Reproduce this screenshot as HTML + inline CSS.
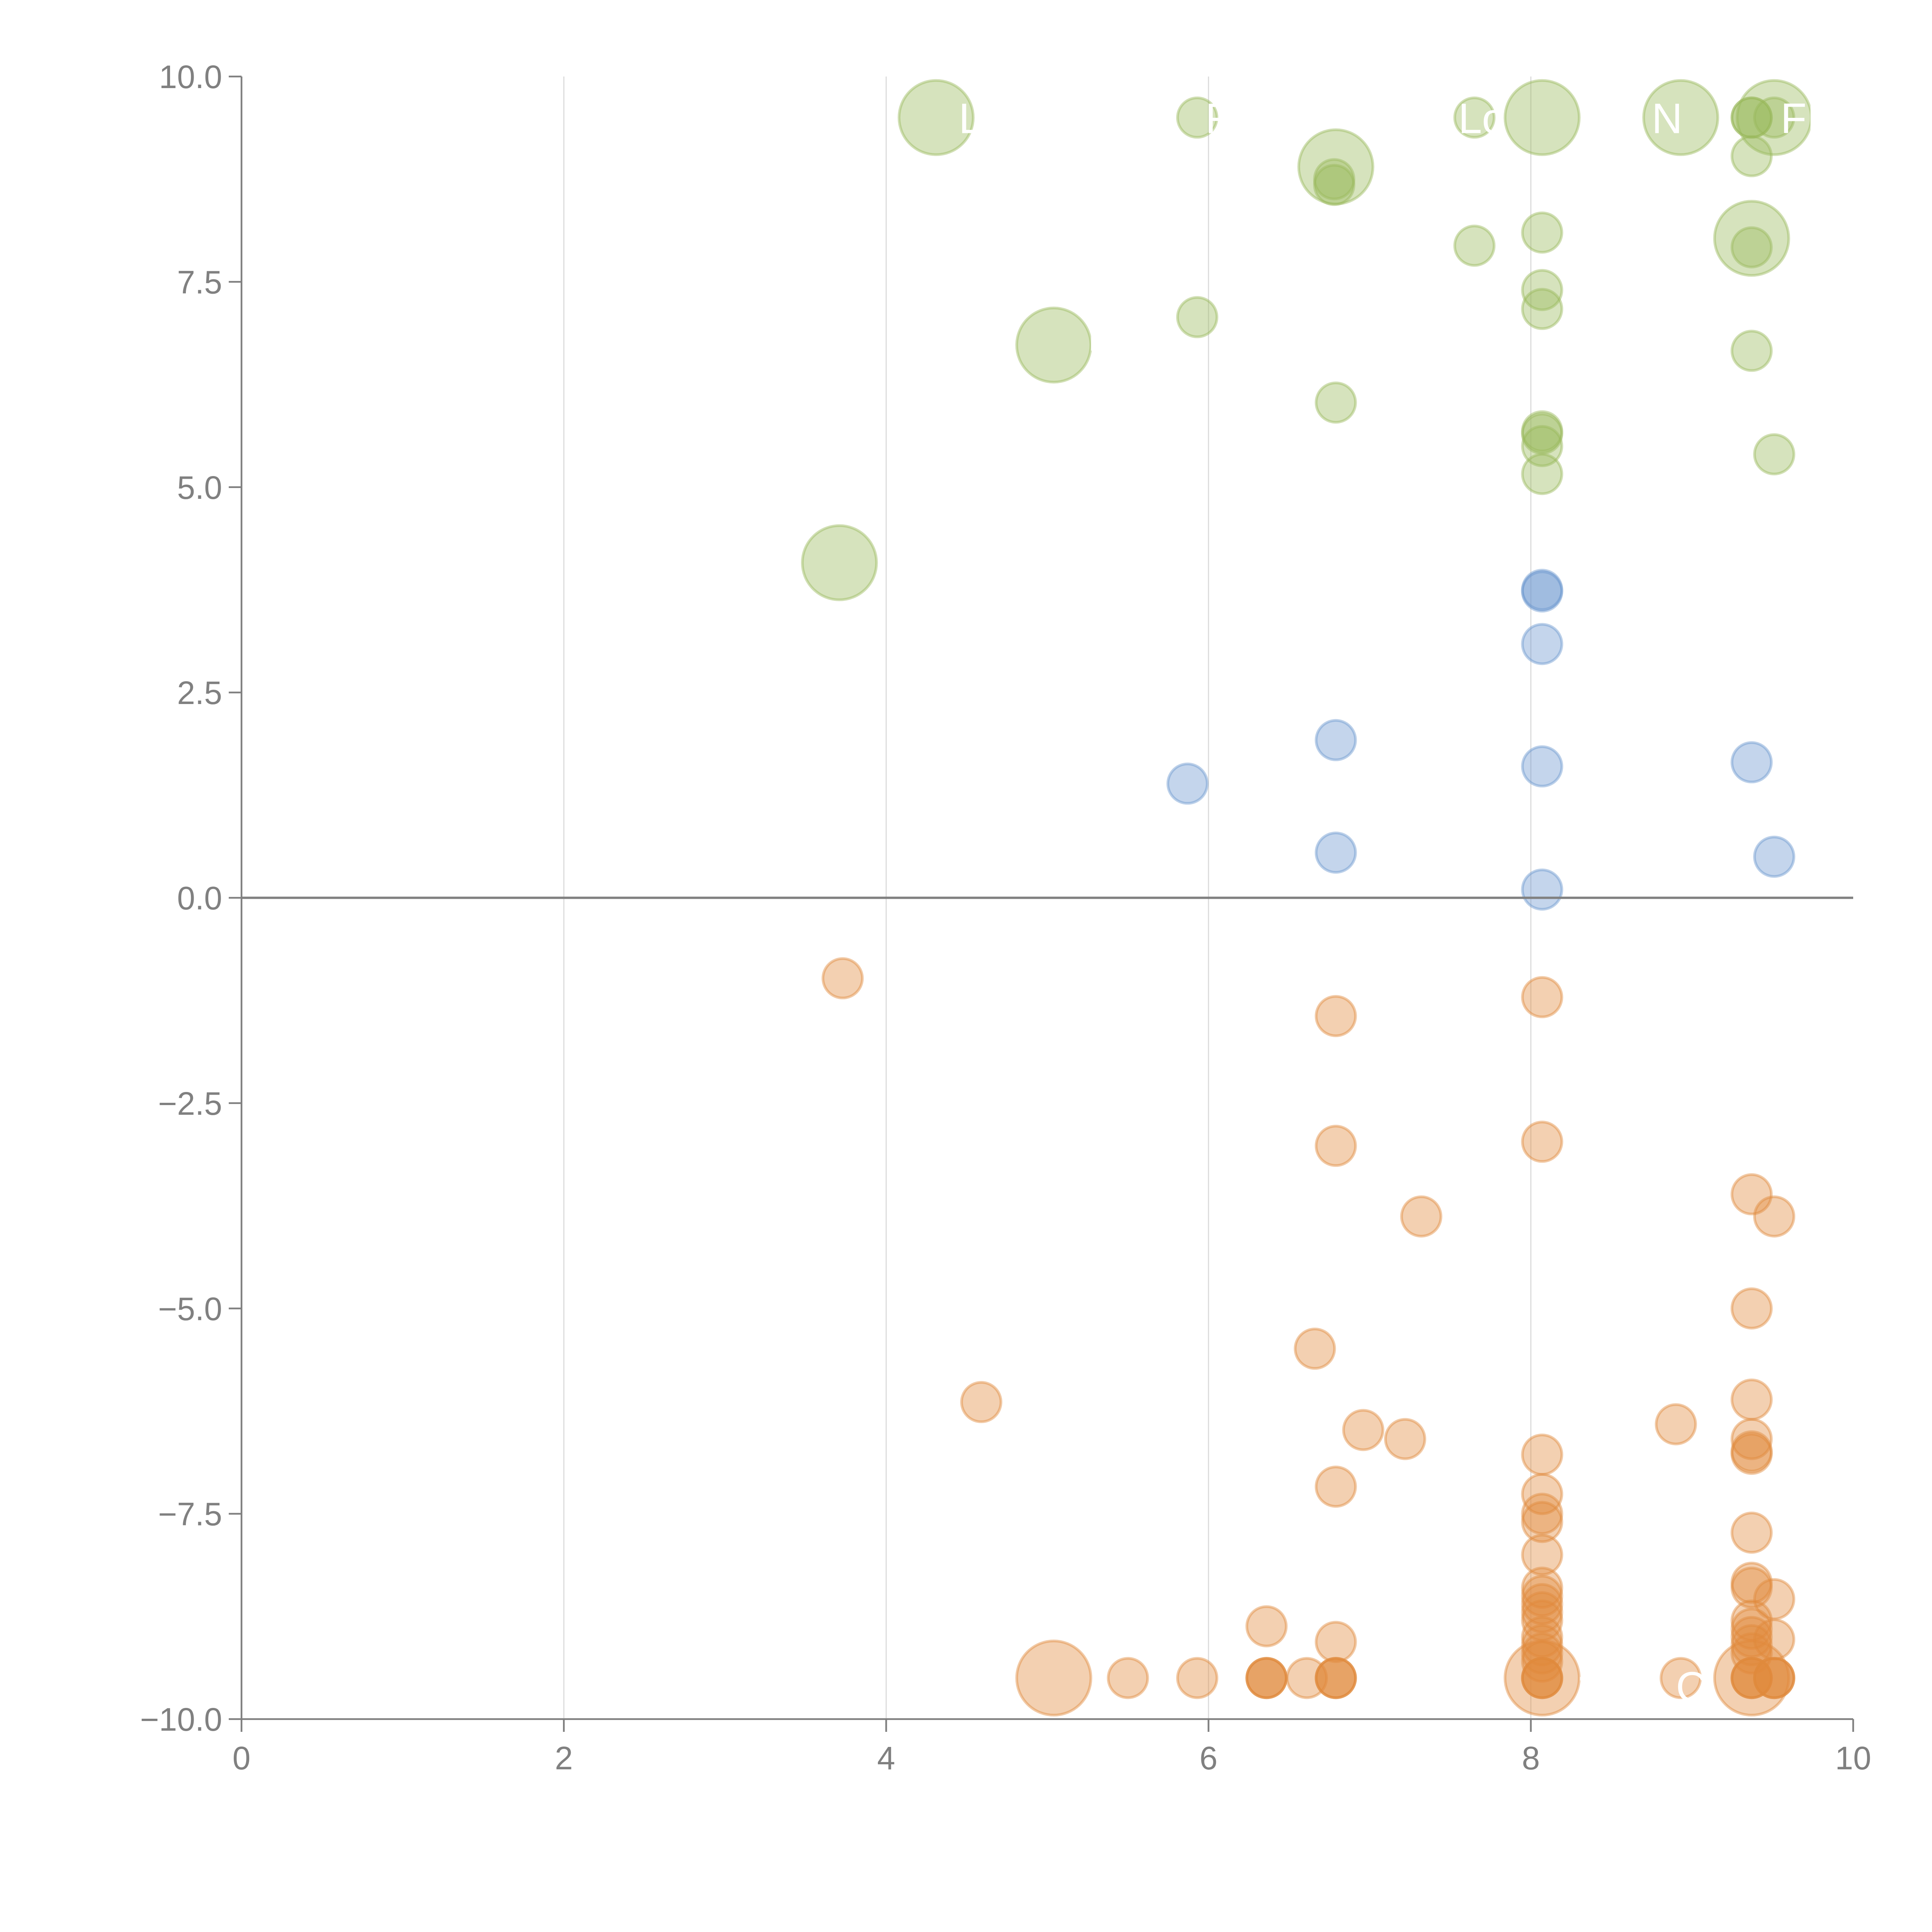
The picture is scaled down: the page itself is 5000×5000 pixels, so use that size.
<!DOCTYPE html>
<html><head><meta charset="utf-8"><title>Bubble scatter</title>
<style>html,body{margin:0;padding:0;background:#fff}svg{display:block}text{font-family:"Liberation Sans",Arial,sans-serif}</style>
</head><body>
<svg id="chart" width="5000" height="5000" viewBox="0 0 5000 5000" xmlns="http://www.w3.org/2000/svg">
<rect width="5000" height="5000" fill="#fff"/>
<g id="grid"></g>
<g id="marks"></g>
<g id="axes"></g>
<g id="labels"></g>
</svg>
<script>
const xTicks = [0, 2, 4, 6, 8, 10];
const yTicks = [-10, -7.5, -5, -2.5, 0, 2.5, 5, 7.5, 10];
const yTickLabels = ["\u221210.0", "\u22127.5", "\u22125.0", "\u22122.5", "0.0", "2.5", "5.0", "7.5", "10.0"];
const xTickLabels = ["0", "2", "4", "6", "8", "10"];

const greenX = [4.31, 5.93, 6.79, 6.78, 6.78, 7.65, 8.07, 8.93, 9.37, 9.37, 9.51, 9.51, 9.37, 9.37, 9.37, 7.65, 8.07, 8.07, 8.07, 5.04, 5.93, 9.37, 6.79, 8.07, 8.07, 8.07, 8.07, 9.51, 3.71];
const greenY = [9.5, 9.5, 8.9, 8.75, 8.68, 9.5, 9.5, 9.5, 9.5, 9.5, 9.5, 9.5, 9.03, 8.03, 7.92, 7.94, 8.1, 7.4, 7.17, 6.73, 7.07, 6.66, 6.03, 5.68, 5.65, 5.5, 5.16, 5.4, 4.08];
const greenS = [2, 1, 2, 1, 1, 1, 2, 2, 1, 1, 2, 1, 1, 2, 1, 1, 1, 1, 1, 2, 1, 1, 1, 1, 1, 1, 1, 1, 2];

const blueX = [8.07, 8.07, 8.07, 5.87, 6.79, 8.07, 9.37, 6.79, 9.51, 8.07];
const blueY = [3.73, 3.75, 3.09, 1.39, 1.92, 1.6, 1.65, 0.55, 0.5, 0.1];
const blueS = [1, 1, 1, 1, 1, 1, 1, 1, 1, 1];

const orangeX = [3.73, 6.79, 8.07, 6.79, 8.07, 7.32, 9.37, 9.51, 9.37, 6.66, 4.59, 6.96, 7.22, 8.9, 9.37, 9.37, 9.37, 9.37, 8.07, 6.79, 8.07, 8.07, 8.07, 8.07, 9.37, 9.37, 9.37, 9.51,
  8.07, 8.07, 8.07, 8.07, 8.07, 8.07, 8.07, 8.07, 8.07, 9.37, 9.37, 9.37, 9.37, 9.37, 9.51, 6.36, 6.79,
  5.04, 5.5, 5.93, 6.36, 6.36, 6.36, 6.61, 6.79, 6.79, 6.79, 8.07, 8.07, 8.07, 8.07, 8.93, 9.37, 9.37, 9.37, 9.37, 9.51, 9.51, 9.51];
const orangeY = [-0.98, -1.44, -1.21, -3.02, -2.97, -3.88, -3.61, -3.88, -5.0, -5.49, -6.14, -6.48, -6.59, -6.41, -6.11, -6.59, -6.77, -6.74, -6.78, -7.17, -7.26, -7.5, -7.6, -8.0, -7.73, -8.34, -8.4, -8.54,
  -8.4, -8.5, -8.6, -8.7, -8.8, -9.0, -9.1, -9.2, -9.3, -8.8, -8.9, -9.0, -9.1, -9.2, -9.03, -8.87, -9.06,
  -9.5, -9.5, -9.5, -9.5, -9.5, -9.5, -9.5, -9.5, -9.5, -9.5, -9.5, -9.5, -9.5, -9.5, -9.5, -9.5, -9.5, -9.5, -9.5, -9.5, -9.5, -9.5];
const orangeS = [1, 1, 1, 1, 1, 1, 1, 1, 1, 1, 1, 1, 1, 1, 1, 1, 1, 1, 1, 1, 1, 1, 1, 1, 1, 1, 1, 1,
  1, 1, 1, 1, 1, 1, 1, 1, 1, 1, 1, 1, 1, 1, 1, 1, 1,
  2, 1, 1, 1, 1, 1, 1, 1, 1, 1, 2, 1, 1, 1, 1, 2, 1, 1, 1, 1, 1, 1];

const labelText = ["L", "R", "Lo", "Z", "N", "FIL", "B", "1", "C"];
const labelX = [4.45, 5.98, 7.55, 8.3, 8.75, 9.55, 5.25, 8.28, 8.9];
const labelY = [9.5, 9.5, 9.5, 9.5, 9.5, 9.5, 6.85, -9.6, -9.6];

const NS = "http://www.w3.org/2000/svg";
const X0 = 625, X1 = 4796, YT = 198, YB = 4449;
function sx(v) { return X0 + (v - 0) / 10 * (X1 - X0); }
function sy(v) { return YB - (v + 10) / 20 * (YB - YT); }
function rad(s) { return s === 2 ? 96 : 51; }
function mk(tag, attrs, parent) {
  const e = document.createElementNS(NS, tag);
  for (const k in attrs) e.setAttribute(k, attrs[k]);
  parent.appendChild(e);
  return e;
}
const grid = document.getElementById('grid');
const marks = document.getElementById('marks');
const axes = document.getElementById('axes');
const labels = document.getElementById('labels');

xTicks.forEach(function (t) {
  if (t === 0 || t === 10) return;
  const l = mk('line', { x1: sx(t), x2: sx(t), y1: YT, y2: YB, stroke: '#dcdcdc', 'stroke-width': 3 }, grid);
  
  
});

function drawSeries(xs, ys, ss, color, name) {
  for (let i = 0; i < xs.length; i++) {
    const c = mk('circle', { cx: sx(xs[i]), cy: sy(ys[i]), r: rad(ss[i]), fill: color, 'fill-opacity': 0.4, stroke: color, 'stroke-opacity': 0.45, 'stroke-width': 7 }, marks);
    
    
  }
}
drawSeries(greenX, greenY, greenS, '#98b95a', 'green-bubble');
drawSeries(blueX, blueY, blueS, '#6b96cf', 'blue-bubble');
drawSeries(orangeX, orangeY, orangeS, '#e08a3c', 'orange-bubble');

const zl = mk('line', { x1: X0, x2: X1, y1: sy(0), y2: sy(0), stroke: '#808080', 'stroke-width': 6 }, axes);


const ya = mk('line', { x1: X0, x2: X0, y1: YT, y2: YB, stroke: '#808080', 'stroke-width': 4.5 }, axes);


const xa = mk('line', { x1: X0, x2: X1, y1: YB, y2: YB, stroke: '#808080', 'stroke-width': 4.5 }, axes);



yTicks.forEach(function (t, i) {
  const tk = mk('line', { x1: X0 - 33, x2: X0, y1: sy(t), y2: sy(t), stroke: '#808080', 'stroke-width': 4.5 }, axes);
  
  
  const tx = mk('text', { x: X0 - 50, y: sy(t) + 30, 'text-anchor': 'end', 'font-size': 84, fill: '#808080' }, axes);
  tx.textContent = yTickLabels[i];
  
  
});
xTicks.forEach(function (t, i) {
  const tk = mk('line', { x1: sx(t), x2: sx(t), y1: YB, y2: YB + 33, stroke: '#808080', 'stroke-width': 4.5 }, axes);
  
  
  const tx = mk('text', { x: sx(t), y: YB + 130, 'text-anchor': 'middle', 'font-size': 84, fill: '#808080' }, axes);
  tx.textContent = xTickLabels[i];
  
  
});

labelText.forEach(function (s, i) {
  const tx = mk('text', { x: sx(labelX[i]), y: sy(labelY[i]) + 40, 'font-size': 110, fill: '#ffffff' }, labels);
  tx.textContent = s;
  
  
});
</script>
</body></html>
